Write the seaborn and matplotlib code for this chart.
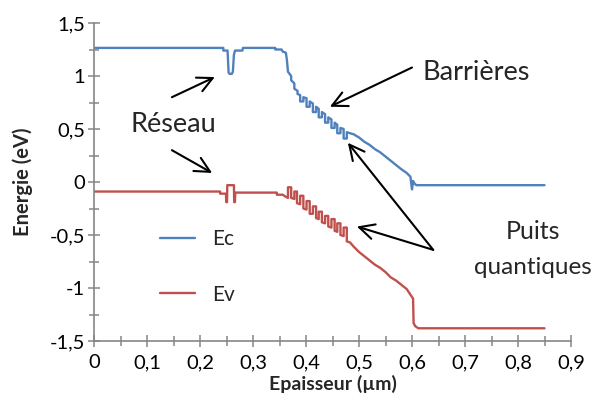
import matplotlib
matplotlib.use("Agg")
import matplotlib.pyplot as plt
import seaborn as sns
import numpy as np
from matplotlib.ticker import FixedLocator, MultipleLocator

# ---- data ----
ec_x = [0.0, 0.244, 0.244, 0.252, 0.254, 0.256, 0.260, 0.262, 0.264, 0.266, 0.280, 0.281,
        0.342, 0.342, 0.354, 0.356, 0.362, 0.364, 0.366, 0.372, 0.372, 0.378, 0.378, 0.384, 0.384,
        0.389, 0.389, 0.395, 0.395, 0.401, 0.401, 0.407, 0.407, 0.413, 0.413, 0.419, 0.419,
        0.424, 0.424, 0.430, 0.430, 0.436, 0.436, 0.442, 0.442, 0.448, 0.448, 0.454, 0.454,
        0.459, 0.459, 0.465, 0.465, 0.471, 0.471, 0.477, 0.477, 0.483,
        0.49, 0.50, 0.51, 0.52, 0.53, 0.54, 0.55, 0.56, 0.57, 0.58, 0.59, 0.597,
        0.600, 0.602, 0.604, 0.608, 0.85]
ec_y = [1.265, 1.265, 1.24, 1.24, 1.03, 1.02, 1.02, 1.04, 1.20, 1.24, 1.24, 1.265,
        1.265, 1.25, 1.25, 1.23, 1.22, 1.15, 1.04, 1.00, 0.96, 0.93, 0.88, 0.86, 0.83,
        0.82, 0.76, 0.76, 0.80, 0.79, 0.71, 0.71, 0.76, 0.74, 0.66, 0.66, 0.71,
        0.69, 0.61, 0.61, 0.66, 0.64, 0.56, 0.56, 0.61, 0.59, 0.51, 0.51, 0.56,
        0.54, 0.46, 0.46, 0.51, 0.50, 0.41, 0.41, 0.47, 0.46,
        0.45, 0.42, 0.38, 0.35, 0.31, 0.28, 0.24, 0.20, 0.16, 0.12, 0.085, 0.05,
        -0.07, 0.01, -0.01, -0.03, -0.03]

ev_x = [0.0, 0.238, 0.238, 0.249, 0.2495, 0.251, 0.2515, 0.264, 0.2645, 0.266, 0.2665,
        0.345, 0.345, 0.356, 0.362, 0.366,
        0.366, 0.372, 0.372, 0.378, 0.378, 0.383, 0.383, 0.389, 0.389, 0.395, 0.395,
        0.401, 0.401, 0.407, 0.407, 0.413, 0.413, 0.419, 0.419, 0.424, 0.424, 0.430, 0.430,
        0.436, 0.436, 0.442, 0.442, 0.448, 0.448, 0.454, 0.454, 0.459, 0.459, 0.465, 0.465,
        0.471, 0.471, 0.477, 0.477, 0.483,
        0.49, 0.50, 0.51, 0.52, 0.53, 0.54, 0.55, 0.56, 0.57, 0.58, 0.59, 0.598, 0.602,
        0.603, 0.606, 0.612, 0.85]
ev_y = [-0.09, -0.09, -0.11, -0.11, -0.19, -0.19, -0.03, -0.03, -0.19, -0.19, -0.10,
        -0.10, -0.12, -0.12, -0.14, -0.15,
        -0.05, -0.05, -0.15, -0.16, -0.09, -0.09, -0.20, -0.21, -0.13, -0.13, -0.25,
        -0.26, -0.18, -0.18, -0.30, -0.30, -0.23, -0.23, -0.34, -0.35, -0.28, -0.28, -0.38,
        -0.39, -0.32, -0.32, -0.42, -0.43, -0.35, -0.35, -0.46, -0.47, -0.39, -0.39, -0.50,
        -0.51, -0.43, -0.43, -0.56, -0.57,
        -0.61, -0.66, -0.70, -0.74, -0.78, -0.81, -0.85, -0.90, -0.93, -0.97, -1.01, -1.07, -1.10,
        -1.33, -1.36, -1.38, -1.38]

x_ticks = [0.0, 0.1, 0.2, 0.3, 0.4, 0.5, 0.6, 0.7, 0.8, 0.9]
x_tick_labels = ["0", "0,1", "0,2", "0,3", "0,4", "0,5", "0,6", "0,7", "0,8", "0,9"]
y_ticks = [-1.5, -1.0, -0.5, 0.0, 0.5, 1.0, 1.5]
y_tick_labels = ["-1,5", "-1", "-0,5", "0", "0,5", "1", "1,5"]

series_names = ["Ec", "Ev"]
series_colors = ["#4F81BD", "#C0504D"]

# ---- figure ----
sns.set_theme(style="white")
plt.rcParams['font.family'] = ['Lato', 'DejaVu Sans']

W, H = 594, 403
fig = plt.figure(figsize=(W / 100, H / 100), dpi=100)
ax = fig.add_axes([94 / W, 1 - 341 / H, (571 - 94) / W, (341 - 23) / H])

sns.lineplot(x=ec_x, y=ec_y, sort=False, estimator=None, color=series_colors[0],
             linewidth=1.7, label=series_names[0], ax=ax)
sns.lineplot(x=ev_x, y=ev_y, sort=False, estimator=None, color=series_colors[1],
             linewidth=1.7, label=series_names[1], ax=ax)

ax.set_xlim(0, 0.9)
ax.set_ylim(-1.5, 1.5)

axis_gray = "#868686"
for s in ["top", "right"]:
    ax.spines[s].set_visible(False)
for s in ["left", "bottom"]:
    ax.spines[s].set_color(axis_gray)
    ax.spines[s].set_linewidth(1.2)

ax.xaxis.set_major_locator(FixedLocator(x_ticks))
ax.set_xticklabels(x_tick_labels)
ax.yaxis.set_major_locator(FixedLocator(y_ticks))
ax.set_yticklabels(y_tick_labels)
ax.xaxis.set_minor_locator(MultipleLocator(0.05))
ax.yaxis.set_minor_locator(MultipleLocator(0.25))

ax.tick_params(axis="both", which="major", direction="inout", length=9, width=1.1,
               color=axis_gray, labelsize=14.5, labelcolor="black")
ax.tick_params(axis="y", which="major", pad=2)
ax.tick_params(axis="x", which="major", pad=5)
ax.tick_params(axis="both", which="minor", direction="inout", length=7, width=1.1,
               color=axis_gray)
ax.tick_params(axis="x", which="both", bottom=True)
ax.tick_params(axis="y", which="both", left=True)

ax.set_xlabel("Epaisseur (µm)", fontsize=14, fontweight="bold", labelpad=3)
ax.set_ylabel("Energie (eV)", fontsize=14.5, fontweight="bold", labelpad=12)

# legend
leg = ax.legend(loc="center left", bbox_to_anchor=(160 / W, 1 - 267 / H),
                bbox_transform=fig.transFigure, frameon=False, fontsize=15,
                handlelength=1.7, handletextpad=0.8, labelspacing=1.7,
                borderpad=0, borderaxespad=0)

# annotations
big = 19.5
ax.text(0.149, 0.54, "Réseau", fontsize=big, ha="center", va="center")
ax.text(0.721, 1.03, "Barrières", fontsize=big, ha="center", va="center")
ax.text(0.828, -0.47, "Puits", fontsize=18, ha="center", va="center")
ax.text(0.828, -0.81, "quantiques", fontsize=17.5, ha="center", va="center")

arrow_kw = dict(arrowstyle="->,head_length=0.9,head_width=0.45", color="black", lw=1.5,
                shrinkA=0, shrinkB=0)
ax.annotate("", xy=(0.228, 0.99), xytext=(0.147, 0.80), arrowprops=arrow_kw)
ax.annotate("", xy=(0.223, 0.085), xytext=(0.147, 0.30), arrowprops=arrow_kw)
ax.annotate("", xy=(0.445, 0.71), xytext=(0.600, 1.08), arrowprops=arrow_kw)
ax.annotate("", xy=(0.479, 0.37), xytext=(0.640, -0.64), arrowprops=arrow_kw)
ax.annotate("", xy=(0.496, -0.42), xytext=(0.640, -0.64), arrowprops=arrow_kw)

fig.savefig("out.png", dpi=100)
